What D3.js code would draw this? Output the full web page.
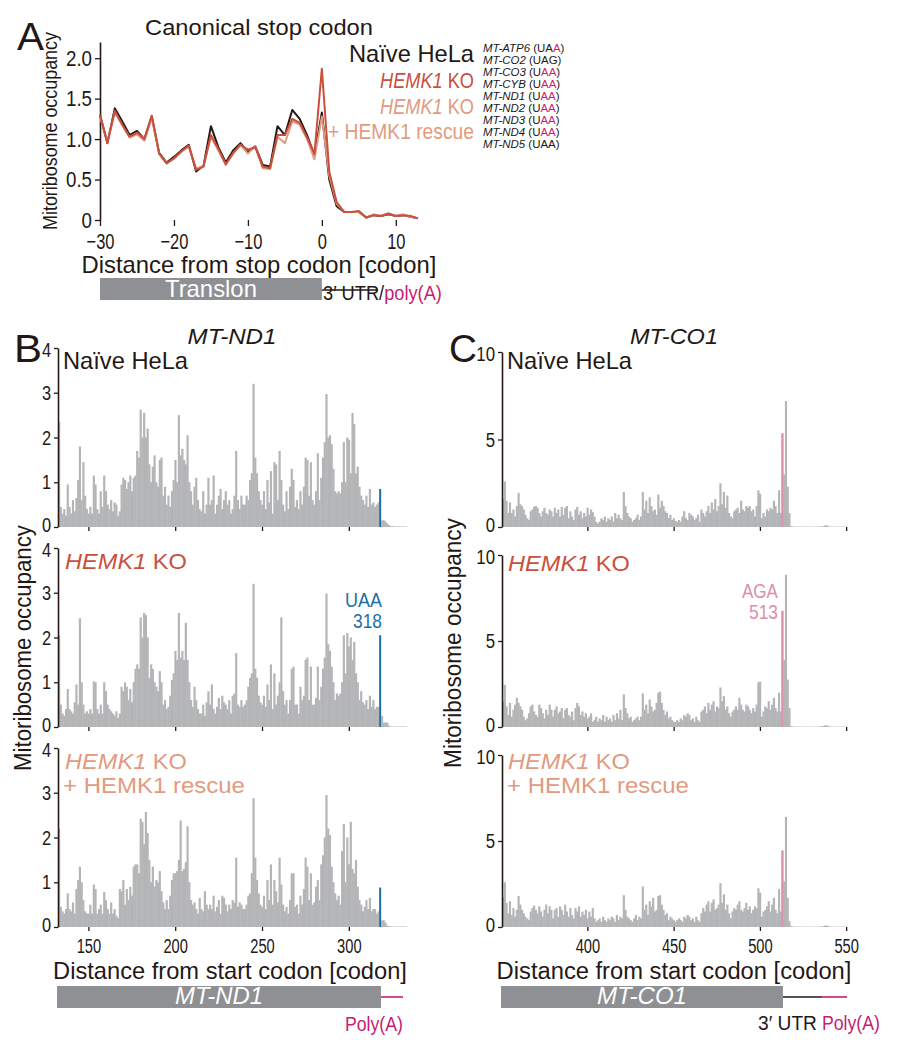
<!DOCTYPE html>
<html><head><meta charset="utf-8">
<script src="https://cdn.jsdelivr.net/npm/d3@7"></script>
<style>body{margin:0;background:#fff}svg{display:block}</style>
</head><body><script>
// ---------- Panel A data ----------
const stopDist = d3.range(-30, 14);
const aNaive = [1.30,0.95,1.38,1.22,1.05,1.10,1.00,1.28,0.83,0.71,0.78,0.86,0.93,0.60,0.67,1.16,0.90,0.71,0.86,0.95,0.84,0.91,0.68,0.66,1.16,1.05,1.36,1.25,1.05,0.80,1.33,0.50,0.17,0.10,0.10,0.10,0.03,0.06,0.05,0.07,0.05,0.06,0.04,0.02];
const aKO = [1.30,0.95,1.35,1.18,1.03,1.08,1.00,1.29,0.82,0.70,0.76,0.85,0.92,0.62,0.66,1.05,0.88,0.69,0.83,0.93,0.87,0.90,0.66,0.64,1.05,1.05,1.25,1.20,1.02,0.82,1.87,0.60,0.22,0.10,0.10,0.11,0.03,0.06,0.05,0.08,0.05,0.06,0.05,0.02];
const aRescue = [1.28,0.96,1.33,1.17,1.02,1.06,0.98,1.26,0.82,0.70,0.76,0.84,0.91,0.63,0.67,1.03,0.86,0.68,0.82,0.93,0.82,0.91,0.64,0.63,1.03,0.95,1.22,1.18,1.00,0.75,1.28,0.55,0.20,0.10,0.10,0.10,0.03,0.07,0.05,0.08,0.05,0.07,0.04,0.02];
const aYTicks = [0, 0.5, 1, 1.5, 2];
const aXTicks = [-30, -20, -10, 0, 10];
const stopGenes = ["MT-ATP6","MT-CO2","MT-CO3","MT-CYB","MT-ND1","MT-ND2","MT-ND3","MT-ND4","MT-ND5"];
const stopCodons = ["UAA","UAG","UAA","UAA","UAA","UAA","UAA","UAA","UAA"];
const stopHighlight = [1,0,2,2,2,2,2,2,0];

// ---------- Panel B data (MT-ND1, codons 133..333) ----------
const nd1Start = 133, nd1Stop = 318;
const nd1Naive = [2.35,0.45,0.3,0.4,0.25,0.95,0.45,
0.3,0.6,0.35,0.65,1.05,1.8,0.6,1.45,0.7,0.4,
0.3,0.45,0.3,1.15,0.95,0.4,0.3,0.8,0.45,1.15,
0.8,0.5,0.4,0.6,0.35,0.55,0.5,0.25,0.35,0.95,
1.1,1.05,0.85,1.0,1.15,0.8,1.1,1.15,1.7,1.55,
2.62,2.0,2.55,2.0,2.2,1.4,1.0,1.35,1.6,1.0,
0.9,1.5,1.55,0.7,0.9,0.5,0.7,0.45,0.8,1.05,
1.5,1.0,2.5,1.6,1.75,1.5,1.4,2.05,1.0,0.8,
0.5,0.9,1.1,0.6,0.4,0.35,0.8,0.3,0.5,1.1,
0.5,0.6,1.15,0.3,0.5,0.7,0.85,0.4,0.6,0.8,
0.5,0.6,0.3,0.4,0.7,1.7,0.6,0.4,0.7,0.5,
0.5,0.7,0.6,1.05,1.2,3.2,1.55,1.2,0.8,0.6,
0.5,0.8,0.4,1.05,0.55,1.25,0.3,1.45,1.4,0.6,
1.7,1.05,0.5,0.35,0.8,0.4,0.9,1.3,1.05,0.45,
0.6,0.4,0.8,0.5,0.9,1.55,1.5,0.7,1.45,0.6,
0.5,0.8,1.65,0.6,1.1,1.55,1.9,2.97,2.0,2.05,
1.85,1.3,0.8,0.75,0.8,0.75,1.0,1.9,1.0,2.0,
1.95,1.2,2.55,2.3,1.2,1.35,0.9,0.7,0.6,0.5,
0.7,0.45,0.85,0.5,0.55,0.45,0.5,0.55,
0.85,
0.15,0.15,0.12,0.08,0.04,0.02,0.02,0.01,0.01,0.01,0.01,0.01,0.01,0.01,0.01];
const nd1KO = [2.05,0.5,0.3,0.25,0.4,0.85,0.4,
0.35,0.3,0.55,0.95,0.5,2.43,1.0,0.5,0.3,0.35,
0.3,0.4,0.3,1.02,1.0,0.4,0.3,0.5,0.3,1.0,
0.8,0.5,0.4,0.35,0.3,0.25,0.35,0.2,0.3,0.9,
0.8,1.0,0.9,0.6,0.85,0.55,1.0,1.3,1.4,1.3,
2.45,2.0,2.55,2.5,2.0,1.1,1.4,1.3,1.0,0.9,
0.8,1.25,1.0,0.5,0.6,0.4,0.45,0.7,1.05,1.2,
1.7,1.5,2.55,1.55,1.7,1.5,2.33,1.5,1.0,0.6,
0.45,0.9,0.6,0.4,0.3,0.3,0.5,0.25,0.55,0.8,
0.5,0.95,0.4,0.3,0.45,0.65,0.4,0.7,0.55,0.5,
0.4,0.6,0.3,0.7,0.75,1.65,0.5,0.45,0.6,0.45,
0.5,0.6,0.9,1.1,1.2,3.2,1.3,1.1,0.7,0.55,
0.5,0.7,0.45,0.95,0.6,1.4,0.4,1.2,0.5,0.7,
1.0,2.45,0.8,0.5,0.6,0.3,0.6,1.3,1.35,0.5,
0.5,0.3,0.9,0.6,0.7,1.5,1.55,0.6,1.35,0.5,
0.5,0.65,1.35,0.6,0.9,1.3,1.55,2.98,1.85,1.7,
1.35,1.0,0.6,0.75,0.7,0.75,1.0,2.05,1.2,2.1,
1.8,2.0,1.5,1.9,1.2,1.0,0.6,0.8,0.55,0.5,
0.6,0.4,0.7,0.45,0.6,0.4,0.45,0.45,
2.05,
0.25,0.1,0.1,0.1,0.03,0.01,0.01,0.01,0.01,0.01,0.01,0.01,0.01,0.01,0.01];
const nd1Rescue = [2.2,0.45,0.35,0.3,0.4,0.75,0.4,
0.35,0.55,0.3,0.85,1.05,1.35,1.0,0.6,0.35,0.3,
0.3,0.5,0.3,0.95,0.85,0.3,0.4,0.5,0.3,0.78,
0.6,0.4,0.3,0.55,0.3,0.4,0.25,0.2,0.85,0.8,
1.05,0.5,0.85,0.6,0.9,0.7,1.35,1.4,1.4,1.2,
2.42,2.35,1.85,2.57,2.1,1.5,1.0,1.35,0.9,1.05,
1.0,1.25,0.8,0.55,0.4,0.6,0.4,0.7,1.05,1.2,
1.2,1.25,1.5,2.38,1.25,1.3,1.45,2.25,1.0,0.6,
0.5,0.55,0.4,0.3,0.65,0.4,0.35,0.8,0.5,0.4,
0.5,0.4,0.7,0.35,0.45,0.6,0.3,0.7,0.65,0.5,
0.35,0.5,0.4,0.6,0.55,1.55,0.45,0.55,0.5,0.4,
0.4,0.5,0.7,0.75,1.2,2.88,1.55,1.05,0.75,0.5,
0.45,0.7,0.4,1.05,0.6,1.4,0.5,1.05,0.8,0.55,
1.55,0.95,0.5,0.35,0.45,0.3,0.6,1.2,1.2,0.45,
0.5,0.3,0.7,0.5,0.85,1.55,1.35,0.6,1.2,0.5,
0.55,0.9,1.05,0.6,1.4,1.6,2.0,2.95,2.2,2.05,
1.35,1.0,0.75,0.6,0.7,0.5,1.7,2.3,1.0,2.0,
1.4,2.35,1.3,1.2,1.5,0.9,0.6,0.5,0.35,0.45,
0.6,0.4,0.65,0.35,0.4,0.4,0.3,0.35,
0.88,
0.15,0.15,0.1,0.03,0.02,0.01,0.01,0.01,0.01,0.01,0.01,0.01,0.01,0.01,0.01];
const nd1XTicks = [150, 200, 250, 300];
const nd1YTicks = [0, 1, 2, 3, 4];

// ---------- Panel C data (MT-CO1, codons 351..550) ----------
const co1Start = 351, co1Site = 513;
const co1Naive = [1.6,2.6,1.5,0.8,1.4,0.8,1.0,0.6,1.2,1.95,
1.3,1.2,1.0,0.7,0.5,0.4,0.9,1.0,1.15,1.2,
1.1,0.8,0.6,0.9,1.1,0.8,0.7,1.0,0.9,0.6,
1.1,0.8,1.0,0.6,1.15,0.7,1.1,1.2,0.5,0.9,
0.6,0.4,1.0,1.15,0.7,0.9,0.5,0.8,0.6,1.1,
0.7,1.0,0.85,0.6,0.3,0.2,0.3,0.5,0.4,0.6,
0.3,0.5,0.4,0.6,0.3,0.8,0.5,0.7,0.5,0.4,
2.0,1.2,0.8,0.6,0.5,0.3,0.4,0.5,0.7,0.4,
0.6,2.0,1.0,1.5,0.8,1.7,1.2,0.9,1.0,0.7,
1.85,1.1,1.5,1.2,0.9,0.8,0.5,0.7,0.4,0.5,
0.35,0.3,0.4,0.3,0.6,0.9,0.5,0.4,0.8,0.7,
0.6,0.4,0.5,0.7,0.3,1.0,0.8,0.6,0.9,1.2,
0.8,1.4,1.0,1.6,0.9,1.2,2.5,1.3,2.0,1.1,
1.8,0.8,0.6,0.5,0.9,1.0,1.1,0.8,1.5,1.0,
0.9,1.2,1.1,1.2,0.9,1.0,0.6,1.2,2.1,1.9,
0.5,0.8,0.6,1.0,0.9,1.1,1.0,1.5,1.2,0.8,
2.1,0.8,5.35,3.0,7.2,2.3,0.8,0.05,0.03,0.02,
0.02,0.02,0.02,0.02,0.02,0.02,0.02,0.02,0.02,0.02,
0.02,0.02,0.02,0.02,0.03,0.03,0.05,0.1,0.08,0.03,
0.02,0.02,0.02,0.02,0.02,0.02,0.02,0.02,0.02,0.02];
const co1KO = [1.5,2.45,1.2,0.7,1.4,0.6,1.0,1.3,1.7,1.4,
1.2,1.0,0.6,0.4,0.5,0.8,1.2,1.3,0.9,0.7,
0.6,1.3,1.1,0.8,0.5,1.0,0.7,1.3,1.0,0.6,
1.0,1.2,0.8,0.9,1.1,0.5,1.0,1.1,0.7,0.6,
0.9,0.4,1.1,1.4,1.2,0.7,0.9,0.6,0.8,0.5,
0.6,0.8,0.3,0.4,0.6,0.3,0.5,0.4,0.7,0.3,
0.6,0.4,0.5,0.3,0.7,0.4,0.8,0.5,1.0,0.4,
1.9,1.1,0.8,0.5,0.6,0.3,0.4,0.5,0.6,0.4,
0.6,1.95,1.0,1.3,0.8,1.6,1.2,0.9,1.0,1.4,
2.0,2.05,1.4,1.0,0.7,0.9,0.5,0.6,0.4,0.3,
0.3,0.4,0.3,0.5,0.4,0.7,0.6,0.8,0.7,0.4,
0.5,0.3,0.6,0.4,0.3,0.9,1.0,1.2,0.8,1.4,
1.0,1.3,1.5,0.9,1.2,1.1,2.3,1.5,1.8,1.0,
1.2,0.8,0.6,0.9,1.0,1.2,1.0,1.7,1.3,1.0,
0.9,1.3,1.2,1.0,0.8,1.1,0.9,1.3,2.6,2.65,
0.6,0.9,1.2,1.1,1.5,1.0,1.3,1.7,1.1,0.9,
2.0,0.9,6.75,3.9,8.85,2.75,1.1,0.05,0.03,0.02,
0.02,0.02,0.02,0.02,0.02,0.02,0.02,0.02,0.02,0.02,
0.02,0.02,0.02,0.03,0.03,0.04,0.06,0.1,0.08,0.04,
0.02,0.02,0.02,0.02,0.02,0.02,0.02,0.02,0.02,0.02];
const co1Rescue = [1.75,2.6,1.4,0.8,1.5,0.7,1.1,0.6,1.0,1.8,
1.3,1.0,0.8,0.6,0.5,0.4,0.9,1.1,1.25,1.0,
0.8,1.2,0.9,0.6,1.0,1.3,0.8,1.2,1.0,0.5,
1.0,1.1,0.6,1.2,1.0,0.7,1.3,0.9,0.6,1.1,
0.7,0.5,1.1,0.9,1.2,0.6,0.9,0.7,1.0,0.5,
0.9,0.6,1.1,0.5,0.3,0.4,0.5,0.3,0.6,0.4,
0.3,0.5,0.4,0.6,0.5,0.3,0.7,0.4,0.6,0.5,
1.85,1.0,0.6,0.5,0.4,0.3,0.5,0.7,0.4,0.6,
0.5,2.35,1.0,1.3,0.7,1.5,1.2,1.7,0.9,1.0,
1.8,1.85,1.3,1.0,0.7,0.8,0.4,0.6,0.5,0.4,
0.3,0.4,0.5,0.4,0.3,0.6,0.5,0.7,0.6,0.4,
0.5,0.3,0.6,0.4,0.3,0.8,1.1,0.9,1.3,1.5,
0.9,1.4,1.6,1.0,1.1,1.3,2.55,1.4,1.9,1.0,
1.3,0.8,0.5,0.9,1.1,1.0,1.3,1.5,1.0,0.9,
1.1,1.4,1.0,1.2,0.8,1.0,1.2,1.1,2.25,2.0,
0.6,0.9,1.0,1.2,1.5,0.9,1.3,1.7,1.0,0.8,
2.2,0.9,4.45,2.65,6.4,1.7,0.35,0.05,0.03,0.02,
0.02,0.02,0.02,0.02,0.02,0.02,0.02,0.02,0.02,0.02,
0.02,0.02,0.02,0.02,0.03,0.03,0.05,0.09,0.07,0.03,
0.02,0.02,0.02,0.02,0.02,0.02,0.02,0.02,0.02,0.02];
const co1XTicks = [400, 450, 500, 550];
const co1YTicks = [0, 5, 10];

// ---------- styles ----------
const F = "'Liberation Sans',Arial,Helvetica,sans-serif";
const INK = "#231815", RED = "#c9503d", SAL = "#e29a80", GRAY = "#b4b5b7",
      BARG = "#8e9093", BLUE = "#1d6fa5", PINK = "#dc8fab", MAG = "#c81d71";

const svg = d3.select("body").append("svg").attr("width", 897).attr("height", 1046);

// text placed at (x,y); optional target width "len" reached by horizontal scaling
function place(t, x, y, o) {
  let sx = 1;
  if (o.len) { const w = t.node().getComputedTextLength(); if (w > 0) sx = o.len / w; }
  t.attr("transform", `translate(${x},${y})` + (o.rot ? ` rotate(${o.rot})` : "") + ` scale(${sx},1)`);
  return t;
}
function text(x, y, s, o = {}) {
  const t = svg.append("text").attr("x", 0).attr("y", 0)
    .attr("font-family", F).attr("font-size", o.fs || 20)
    .attr("fill", o.fill || INK).attr("text-anchor", o.anchor || "start");
  if (o.italic) t.attr("font-style", "italic");
  t.text(s);
  return place(t, x, y, o);
}
function hemk(x, y, suffix, fill, fs, len) {
  const t = svg.append("text").attr("x", 0).attr("y", 0).attr("font-family", F)
    .attr("font-size", fs).attr("fill", fill);
  t.append("tspan").attr("font-style", "italic").text("HEMK1");
  t.append("tspan").text(suffix);
  return place(t, x, y, { len });
}
function styleAxis(g, fs, k) {
  g.selectAll("text").attr("font-family", F).attr("font-size", fs).attr("fill", INK)
    .each(function () {
      const el = d3.select(this);
      const tx = +el.attr("x") || 0;
      el.attr("x", 0).attr("transform", `translate(${tx},0) scale(${k},1)`);
    });
  g.selectAll("line").attr("stroke", INK).attr("stroke-width", 1.3);
  g.selectAll("path").attr("stroke", INK).attr("stroke-width", 1.6);
}

// ================= Panel A =================
const xA = d3.scaleLinear().domain([-30, 13]).range([100, 418]);
const yA = d3.scaleLinear().domain([0, 2.2]).range([220, 42]);

const gAy = svg.append("g").attr("transform", "translate(100,0)")
  .call(d3.axisLeft(yA).tickValues(aYTicks).tickSize(5).tickSizeOuter(0)
    .tickFormat(d => d === 0 ? "0" : d3.format(".1f")(d)));
styleAxis(gAy, 22, 0.85);
const gAx = svg.append("g").attr("transform", "translate(0,220)")
  .call(d3.axisBottom(xA).tickValues(aXTicks).tickSize(6)
    .tickFormat(d => d < 0 ? "\u2212" + Math.abs(d) : String(d)));
gAx.select(".domain").remove();
gAx.selectAll("text").attr("dy", "0.92em");
styleAxis(gAx, 22, 0.75);

const lineA = d3.line().x((d, i) => xA(stopDist[i])).y(d => yA(d));
[[aNaive, INK], [aRescue, SAL], [aKO, RED]].forEach(([v, c]) => {
  svg.append("path").datum(v).attr("d", lineA).attr("fill", "none")
    .attr("stroke", c).attr("stroke-width", 2).attr("stroke-linejoin", "round");
});

text(17, 50, "A", { fs: 39, len: 27 });
text(259, 35, "Canonical stop codon", { fs: 22, anchor: "middle", len: 228 });
text(57, 131, "Mitoribosome occupancy", { fs: 20, anchor: "middle", rot: -90, len: 198 });
text(259, 273, "Distance from stop codon [codon]", { fs: 23, anchor: "middle", len: 355 });

// legend (right edge at x = 474)
text(474 - 125, 62, "Naïve HeLa", { fs: 23, len: 125 });
hemk(474 - 94, 88, " KO", RED, 22, 94);
hemk(474 - 94, 114, " KO", SAL, 22, 94);
text(474 - 146, 139, "+ HEMK1 rescue", { fs: 22, len: 146, fill: SAL });

stopGenes.forEach((g, i) => {
  const t = svg.append("text").attr("x", 0).attr("y", 0)
    .attr("font-family", F).attr("font-size", 10.4).attr("fill", INK);
  t.append("tspan").attr("font-style", "italic").text(g);
  const s = stopCodons[i], h = stopHighlight[i];
  t.append("tspan").text(" (" + s.slice(0, s.length - h));
  if (h) t.append("tspan").attr("fill", MAG).text(s.slice(s.length - h));
  t.append("tspan").text(")");
  t.attr("transform", `translate(483,${52 + i * 12}) scale(1.1,1.1)`);
});

svg.append("rect").attr("x", xA(-30)).attr("y", 278).attr("width", xA(0) - xA(-30))
  .attr("height", 22).attr("fill", BARG);
text((xA(-30) + xA(0)) / 2, 297, "Translon", { fs: 23, anchor: "middle", fill: "#fff", len: 92 });
svg.append("line").attr("x1", xA(0)).attr("x2", 378).attr("y1", 290).attr("y2", 290)
  .attr("stroke", INK).attr("stroke-width", 1.3);
{
  const t = svg.append("text").attr("x", 0).attr("y", 0).attr("font-family", F)
    .attr("font-size", 20).attr("fill", INK);
  t.append("tspan").text("3\u2032 UTR/");
  t.append("tspan").attr("fill", MAG).text("poly(A)");
  place(t, 323, 300, { len: 119 });
}

// ================= Panels B & C =================
function panel(cfg) {
  const x = d3.scaleLinear().domain(cfg.xdom).range(cfg.xrange);
  const step = x(1) - x(0);
  const ymax = cfg.yticks[cfg.yticks.length - 1];
  cfg.sets.forEach((vals, k) => {
    const top = cfg.tops[k], bot = cfg.bots[k];
    const y = d3.scaleLinear().domain(cfg.ydom).range([bot, top]);
    svg.append("g").selectAll("rect").data(vals).join("rect")
      .attr("x", (d, i) => x(cfg.start + i) - step / 2)
      .attr("width", step + 0.45)
      .attr("y", d => y(d)).attr("height", d => bot - y(d))
      .attr("fill", GRAY);
    const hv = vals[cfg.hi - cfg.start];
    svg.append("rect")
      .attr("x", x(cfg.hi) - step / 2).attr("width", step)
      .attr("y", y(hv)).attr("height", bot - y(hv))
      .attr("fill", cfg.hiColor);
    const gy = svg.append("g").attr("transform", `translate(${cfg.xrange[0]},0)`)
      .call(d3.axisLeft(y).tickValues(cfg.yticks).tickSize(4).tickSizeOuter(0)
        .tickFormat(d3.format("d")));
    // keep the bottom label of one plot clear of the top label of the next
    gy.selectAll(".tick text").attr("dy", d => d === 0 ? "0.22em" : d === ymax ? "0.42em" : "0.32em");
    styleAxis(gy, cfg.yfs, 0.8);
    const gx = svg.append("g").attr("transform", `translate(0,${bot})`)
      .call(d3.axisBottom(x).tickValues(cfg.xticks).tickSize(4)
        .tickFormat(k === 2 ? d3.format("d") : () => ""));
    gx.select(".domain").remove();
    gx.selectAll("text").attr("dy", "0.9em");
    styleAxis(gx, 21, 0.7);
  });
  return x;
}

const xB = panel({
  xdom: [132.5, 333.5], xrange: [58, 407], start: nd1Start, hi: nd1Stop, hiColor: BLUE,
  sets: [nd1Naive, nd1KO, nd1Rescue], tops: [348, 548, 748], bots: [527, 727, 927],
  ydom: [0, 4], yticks: nd1YTicks, xticks: nd1XTicks, yfs: 20.5
});
const xC = panel({
  xdom: [350.5, 550.5], xrange: [502, 847], start: co1Start, hi: co1Site, hiColor: PINK,
  sets: [co1Naive, co1KO, co1Rescue], tops: [352, 555, 755], bots: [527, 727, 927],
  ydom: [0, 10], yticks: co1YTicks, xticks: co1XTicks, yfs: 21
});

// Panel B text
text(14, 362, "B", { fs: 39, len: 28 });
text(232, 344, "MT-ND1", { fs: 22, anchor: "middle", italic: true, len: 89 });
text(63, 369, "Naïve HeLa", { fs: 23, len: 125 });
hemk(65, 569, " KO", RED, 22, 122);
hemk(65, 769, " KO", SAL, 22, 122);
text(63, 793, "+ HEMK1 rescue", { fs: 22, fill: SAL, len: 182 });
text(345, 607, "UAA", { fs: 21, fill: BLUE, len: 37 });
text(353, 628, "318", { fs: 21, fill: BLUE, len: 29 });
text(31, 648, "Mitoribosome occupancy", { fs: 24, anchor: "middle", rot: -90, len: 246 });
text(230, 979, "Distance from start codon [codon]", { fs: 23, anchor: "middle", len: 354 });
svg.append("rect").attr("x", 57).attr("y", 986).attr("width", xB(nd1Stop + 0.5) - 57)
  .attr("height", 22).attr("fill", BARG);
text(219, 1004, "MT-ND1", { fs: 23, anchor: "middle", italic: true, fill: "#fff", len: 88 });
svg.append("line").attr("x1", xB(nd1Stop + 0.5)).attr("x2", 403).attr("y1", 997).attr("y2", 997)
  .attr("stroke", MAG).attr("stroke-width", 1.6);
text(345, 1031, "Poly(A)", { fs: 20, fill: MAG, len: 58 });

// Panel C text
text(449, 362, "C", { fs: 39, len: 28 });
text(674, 344, "MT-CO1", { fs: 22, anchor: "middle", italic: true, len: 88 });
text(507, 369, "Naïve HeLa", { fs: 23, len: 125 });
hemk(508, 571, " KO", RED, 22, 122);
text(742, 598, "AGA", { fs: 21, fill: PINK, len: 36 });
text(749, 619, "513", { fs: 21, fill: PINK, len: 29 });
hemk(508, 769, " KO", SAL, 22, 122);
text(507, 793, "+ HEMK1 rescue", { fs: 22, fill: SAL, len: 182 });
text(461, 643, "Mitoribosome occupancy", { fs: 24, anchor: "middle", rot: -90, len: 250 });
text(674, 979, "Distance from start codon [codon]", { fs: 23, anchor: "middle", len: 355 });
svg.append("rect").attr("x", 501).attr("y", 986).attr("width", 783 - 501)
  .attr("height", 22).attr("fill", BARG);
text(642, 1004, "MT-CO1", { fs: 23, anchor: "middle", italic: true, fill: "#fff", len: 90 });
svg.append("line").attr("x1", 783).attr("x2", 822).attr("y1", 997).attr("y2", 997)
  .attr("stroke", INK).attr("stroke-width", 1.3);
svg.append("line").attr("x1", 822).attr("x2", 847).attr("y1", 997).attr("y2", 997)
  .attr("stroke", MAG).attr("stroke-width", 1.6);
text(758, 1030, "3\u2032 UTR", { fs: 20, len: 59 });
text(822, 1030, "Poly(A)", { fs: 20, fill: MAG, len: 58 });
</script></body></html>
